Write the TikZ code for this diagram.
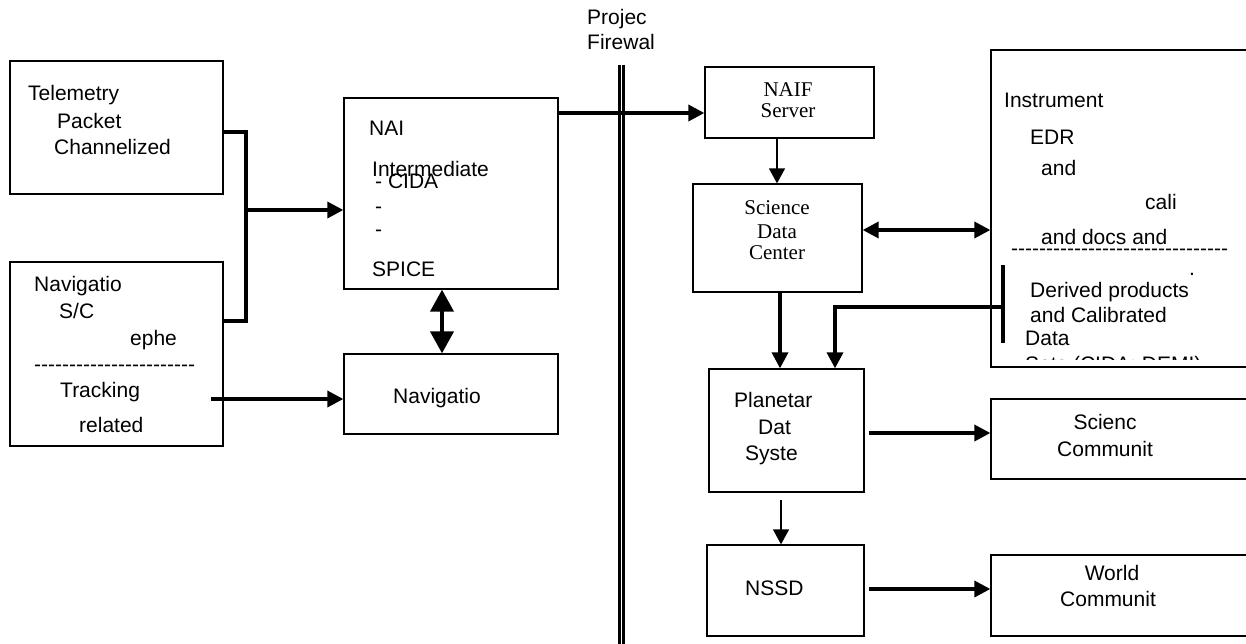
\documentclass[tikz,border=0pt]{standalone}
\usepackage{fontspec}
\setmainfont{Liberation Sans}
\newfontfamily\timesfont{Liberation Serif}
\usetikzlibrary{arrows.meta}

\tikzset{
  box/.style={draw,line width=1.3pt,inner sep=0pt},
  txt/.style={anchor=base west,inner sep=0pt},
  ctxt/.style={anchor=base,inner sep=0pt},
  serif/.style={ctxt,font=\fontsize{21}{25}\timesfont},
  bus/.style={line width=3.5pt},
  feed/.style={bus,-{Triangle[length=16pt,width=16pt]}},
  both/.style={bus,{Triangle[length=16pt,width=16pt]}-{Triangle[length=16pt,width=16pt]}},
  thinfeed/.style={line width=1.4pt,-{Triangle[length=15pt,width=16pt]}},
}
\newcommand{\dashrow}[1]{\foreach \k in {1,...,#1}{-{}}}

\begin{document}
\begin{tikzpicture}[x=1pt,y=-1pt,font=\fontsize{21}{25}\selectfont]
\clip (0,0) rectangle (1246,643);
\fill[white] (0,0) rectangle (1246,643);

\node[box,minimum width=213pt,minimum height=133pt] (telemetry) at (116.5,127.5) {};
\node[box,minimum width=213pt,minimum height=184pt] (navsrc) at (116.5,354) {};
\node[box,minimum width=214pt,minimum height=191pt] (nai) at (451,193.5) {};
\node[box,minimum width=214pt,minimum height=80pt] (nav) at (451,394) {};
\node[box,minimum width=169pt,minimum height=71pt] (naif) at (789.5,102.5) {};
\node[box,minimum width=169pt,minimum height=108pt] (sdc) at (777.5,238) {};
\node[box,minimum width=309pt,minimum height=317pt] (instr) at (1145.5,208.5) {};
\node[box,minimum width=155pt,minimum height=123pt] (pds) at (786.5,430.5) {};
\node[box,minimum width=309pt,minimum height=80pt] (scicom) at (1145.5,439) {};
\node[box,minimum width=157pt,minimum height=91pt] (nssd) at (785.5,590.5) {};
\node[box,minimum width=309pt,minimum height=81pt] (world) at (1145.5,595.5) {};

\draw[line width=2.5pt] (619.5,65) -- (619.5,650);
\draw[line width=2.5pt] (623.7,65) -- (623.7,650);
\node[txt] (projec) at (587,24) {Projec};
\node[txt] (firewal) at (587,49) {Firewal};

\node[txt] at (28,100) {Telemetry};
\node[txt] at (57,128) {Packet};
\node[txt] at (54,154) {Channelized};

\node[txt] at (34,291) {Navigatio};
\node[txt] at (59,318) {S/C};
\node[txt] at (130,345) {ephe};
\node[txt] at (34,371) {\dashrow{23}};
\node[txt] at (60,397) {Tracking};
\node[txt] at (79,432) {related};

\node[txt] at (369,135) {NAI};
\node[txt] at (372,176) {Intermediate};
\node[txt] at (375,188) {- CIDA};
\node[txt] at (375,213) {-};
\node[txt] at (375,236) {-};
\node[txt] at (372,276) {SPICE};

\node[txt] at (393,403) {Navigatio};

\node[serif] at (788,96) {NAIF};
\node[serif] at (788,117) {Server};
\node[serif] at (777,214) {Science};
\node[serif] at (777,238) {Data};
\node[serif] at (777,259) {Center};

\node[txt] at (1004,107) {Instrument};
\node[txt] at (1030,144) {EDR};
\node[txt] at (1041,175) {and};
\node[txt] at (1145,209) {cali};
\node[txt] at (1041,244) {and docs and};
\node[txt] at (1011,255) {\dashrow{31}};
\node[txt] at (1189,275) {.};
\node[txt] at (1030,297) {Derived products};
\node[txt] at (1030,322) {and Calibrated};
\node[txt] at (1025,345) {Data};
\begin{scope}
  \clip (991,330) rectangle (1246,359);
  \node[txt] at (1025,371) {Sets (CIDA; DEMI)};
\end{scope}

\node[txt] at (734,407) {Planetar};
\node[txt] at (758,434) {Dat};
\node[txt] at (745,460) {Syste};
\node[ctxt] at (1105,429) {Scienc};
\node[ctxt] at (1105,456) {Communit};
\node[txt] at (745,595) {NSSD};
\node[ctxt] at (1112,580) {World};
\node[ctxt] at (1108,606) {Communit};

\coordinate (join) at (246,210);
\draw[bus] (telemetry.east |- 0,132) -| (246,321) -- (navsrc.east |- 0,321);
\draw[feed] (join) -- (nai.west |- join);
\coordinate (track) at (211,399);
\draw[feed] (track) -- (nav.west |- track);
\draw[line width=4pt,{Triangle[length=22pt,width=23pt]}-{Triangle[length=22pt,width=23pt]}] (442,0 |- nai.south) -- (442,0 |- nav.north);
\draw[feed] (nai.east |- 0,113) -- (naif.west |- 0,113);
\draw[thinfeed] (777,0 |- naif.south) -- (777,0 |- sdc.north);
\draw[both] (sdc.east |- 0,230) -- (instr.west |- 0,230);
\draw[feed] (780,0 |- sdc.south) -- (780,0 |- pds.north);
\coordinate (bartop) at (1003,265);
\coordinate (barbot) at (1003,343);
\draw[line width=4pt] (bartop) -- (barbot);
\draw[feed] (1003,307) -| (835,0 |- pds.north);
\draw[feed] (869,433) -- (scicom.west |- 0,433);
\draw[thinfeed] (781,500) -- (781,0 |- nssd.north);
\draw[feed] (869,589) -- (world.west |- 0,589);
\end{tikzpicture}
\end{document}
